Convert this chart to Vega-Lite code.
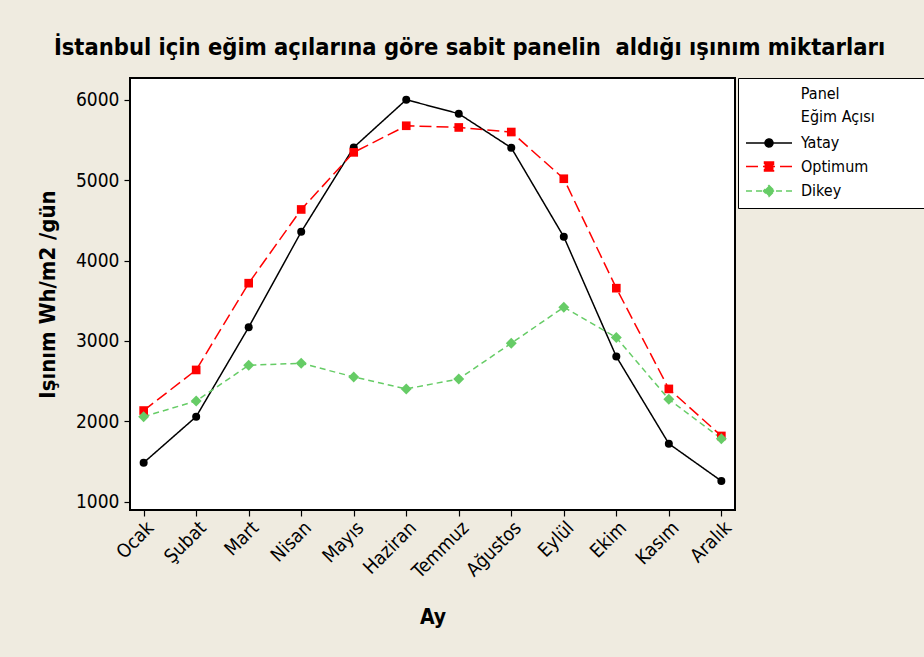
{
  "$schema": "https://vega.github.io/schema/vega-lite/v6.json",
  "width": 605,
  "height": 432,
  "autosize": {"type": "none"},
  "padding": {"left": 130, "top": 78, "right": 189, "bottom": 147},
  "background": "#EFEBE0",
  "title": {
    "text": "İstanbul için eğim açılarına göre sabit panelin\u00a0 aldığı ışınım miktarları",
    "font": "DejaVu Sans Condensed, DejaVu Sans",
    "fontSize": 23.5,
    "fontWeight": "bold",
    "color": "black",
    "anchor": "middle",
    "frame": "group",
    "dx": 37,
    "offset": 18
  },
  "data": {
    "values": [
      {"Ay": "Ocak", "Panel": "Yatay", "v": 1485},
      {"Ay": "Şubat", "Panel": "Yatay", "v": 2058},
      {"Ay": "Mart", "Panel": "Yatay", "v": 3170},
      {"Ay": "Nisan", "Panel": "Yatay", "v": 4357},
      {"Ay": "Mayıs", "Panel": "Yatay", "v": 5407},
      {"Ay": "Haziran", "Panel": "Yatay", "v": 6000},
      {"Ay": "Temmuz", "Panel": "Yatay", "v": 5826},
      {"Ay": "Ağustos", "Panel": "Yatay", "v": 5402},
      {"Ay": "Eylül", "Panel": "Yatay", "v": 4295},
      {"Ay": "Ekim", "Panel": "Yatay", "v": 2805},
      {"Ay": "Kasım", "Panel": "Yatay", "v": 1722},
      {"Ay": "Aralık", "Panel": "Yatay", "v": 1258},
      {"Ay": "Ocak", "Panel": "Optimum", "v": 2134},
      {"Ay": "Şubat", "Panel": "Optimum", "v": 2639},
      {"Ay": "Mart", "Panel": "Optimum", "v": 3718},
      {"Ay": "Nisan", "Panel": "Optimum", "v": 4635},
      {"Ay": "Mayıs", "Panel": "Optimum", "v": 5345},
      {"Ay": "Haziran", "Panel": "Optimum", "v": 5676},
      {"Ay": "Temmuz", "Panel": "Optimum", "v": 5655},
      {"Ay": "Ağustos", "Panel": "Optimum", "v": 5598},
      {"Ay": "Eylül", "Panel": "Optimum", "v": 5017},
      {"Ay": "Ekim", "Panel": "Optimum", "v": 3656},
      {"Ay": "Kasım", "Panel": "Optimum", "v": 2403},
      {"Ay": "Aralık", "Panel": "Optimum", "v": 1818},
      {"Ay": "Ocak", "Panel": "Dikey", "v": 2058},
      {"Ay": "Şubat", "Panel": "Dikey", "v": 2253},
      {"Ay": "Mart", "Panel": "Dikey", "v": 2697},
      {"Ay": "Nisan", "Panel": "Dikey", "v": 2722},
      {"Ay": "Mayıs", "Panel": "Dikey", "v": 2552},
      {"Ay": "Haziran", "Panel": "Dikey", "v": 2403},
      {"Ay": "Temmuz", "Panel": "Dikey", "v": 2527},
      {"Ay": "Ağustos", "Panel": "Dikey", "v": 2971},
      {"Ay": "Eylül", "Panel": "Dikey", "v": 3419},
      {"Ay": "Ekim", "Panel": "Dikey", "v": 3042},
      {"Ay": "Kasım", "Panel": "Dikey", "v": 2274},
      {"Ay": "Aralık", "Panel": "Dikey", "v": 1784}
    ]
  },
  "encoding": {
    "x": {
      "field": "Ay",
      "type": "ordinal",
      "sort": ["Ocak", "Şubat", "Mart", "Nisan", "Mayıs", "Haziran", "Temmuz", "Ağustos", "Eylül", "Ekim", "Kasım", "Aralık"],
      "scale": {"type": "point", "padding": 0.26},
      "axis": {
        "title": "Ay",
        "labelAngle": -45,
        "labelFontSize": 19,
        "labelPadding": 2,
        "titleFontSize": 21,
        "titleY": 107,
        "titleBaseline": "middle"
      }
    },
    "y": {
      "field": "v",
      "type": "quantitative",
      "scale": {"domain": [897, 6270], "nice": false, "zero": false},
      "axis": {
        "title": "Işınım Wh/m2 /gün",
        "values": [1000, 2000, 3000, 4000, 5000, 6000],
        "format": "d",
        "labelFontSize": 19,
        "labelPadding": 5,
        "titleFontSize": 22,
        "titleX": -83,
        "titleBaseline": "middle"
      }
    },
    "color": {
      "field": "Panel",
      "type": "nominal",
      "scale": {"domain": ["Yatay", "Optimum", "Dikey"], "range": ["#000000", "#FF0000", "#66CC66"]},
      "legend": {
        "orient": "none",
        "legendX": 608,
        "legendY": 0,
        "title": ["\u200b\u00a0\u00a0\u00a0\u00a0\u00a0\u00a0\u00a0\u00a0\u00a0\u00a0\u00a0\u00a0Panel\u00a0\u00a0\u00a0\u00a0\u00a0\u00a0\u00a0\u00a0\u00a0\u00a0\u00a0\u00a0\u00a0\u00a0\u00a0\u00a0\u00a0\u200b", "\u200b\u00a0\u00a0\u00a0\u00a0\u00a0\u00a0\u00a0\u00a0\u00a0\u00a0\u00a0\u00a0Eğim Açısı"]
      }
    }
  },
  "layer": [
    {
      "mark": {"type": "line", "strokeWidth": 1.5},
      "encoding": {
        "strokeDash": {
          "field": "Panel",
          "type": "nominal",
          "scale": {"domain": ["Yatay", "Optimum", "Dikey"], "range": [[1, 0], [12, 5], [6, 4]]},
          "legend": {
            "orient": "none",
            "legendX": 608,
            "legendY": 0,
            "title": ["\u200b\u00a0\u00a0\u00a0\u00a0\u00a0\u00a0\u00a0\u00a0\u00a0\u00a0\u00a0\u00a0Panel\u00a0\u00a0\u00a0\u00a0\u00a0\u00a0\u00a0\u00a0\u00a0\u00a0\u00a0\u00a0\u00a0\u00a0\u00a0\u00a0\u00a0\u200b", "\u200b\u00a0\u00a0\u00a0\u00a0\u00a0\u00a0\u00a0\u00a0\u00a0\u00a0\u00a0\u00a0Eğim Açısı"]
          }
        }
      }
    },
    {
      "mark": {"type": "point", "filled": true, "opacity": 0},
      "encoding": {
        "shape": {
          "field": "Panel",
          "type": "nominal",
          "scale": {
            "domain": ["Yatay", "Optimum", "Dikey"],
            "range": [
              "M-4.6,0H4.6M-0.8,0A0.8,0.8,0,1,0,0.8,0A0.8,0.8,0,1,0,-0.8,0Z",
              "M-4.6,0H4.6M-0.9,-0.9H0.9V0.9H-0.9Z",
              "M-4.6,0H4.6M0,-1.1L1.1,0L0,1.1L-1.1,0Z"
            ]
          },
          "legend": {
            "orient": "none",
            "legendX": 608,
            "legendY": 0,
            "title": ["\u200b\u00a0\u00a0\u00a0\u00a0\u00a0\u00a0\u00a0\u00a0\u00a0\u00a0\u00a0\u00a0Panel\u00a0\u00a0\u00a0\u00a0\u00a0\u00a0\u00a0\u00a0\u00a0\u00a0\u00a0\u00a0\u00a0\u00a0\u00a0\u00a0\u00a0\u200b", "\u200b\u00a0\u00a0\u00a0\u00a0\u00a0\u00a0\u00a0\u00a0\u00a0\u00a0\u00a0\u00a0Eğim Açısı"]
          }
        }
      }
    },
    {
      "transform": [{"filter": "datum.Panel === 'Yatay'"}],
      "mark": {"type": "point", "filled": true, "opacity": 1, "shape": "circle", "size": 64}
    },
    {
      "transform": [{"filter": "datum.Panel === 'Optimum'"}],
      "mark": {"type": "point", "filled": true, "opacity": 1, "shape": "square", "size": 75}
    },
    {
      "transform": [{"filter": "datum.Panel === 'Dikey'"}],
      "mark": {"type": "point", "filled": true, "opacity": 1, "shape": "diamond", "size": 120}
    }
  ],
  "config": {
    "font": "DejaVu Sans Condensed, DejaVu Sans",
    "view": {"fill": "white", "stroke": "black", "strokeWidth": 2},
    "axis": {
      "domain": false,
      "grid": false,
      "ticks": true,
      "tickColor": "black",
      "tickSize": 6,
      "tickWidth": 1.2,
      "labelColor": "black",
      "titleColor": "black",
      "titleFontWeight": "bold",
      "labelFont": "DejaVu Sans Condensed, DejaVu Sans",
      "titleFont": "DejaVu Sans Condensed, DejaVu Sans"
    },
    "legend": {
      "labelColor": "black",
      "titleColor": "black",
      "labelFont": "DejaVu Sans Condensed, DejaVu Sans",
      "titleFont": "DejaVu Sans Condensed, DejaVu Sans",
      "titleFontSize": 16,
      "titleFontWeight": "normal",
      "titleLineHeight": 23,
      "titlePadding": 10,
      "titleLimit": 600,
      "labelFontSize": 16,
      "symbolSize": 100,
      "symbolOffset": 15,
      "symbolOpacity": 1,
      "symbolStrokeWidth": 1.5,
      "labelOffset": 24,
      "rowPadding": 7.5,
      "padding": 8,
      "strokeColor": "black",
      "fillColor": "white"
    }
  }
}
